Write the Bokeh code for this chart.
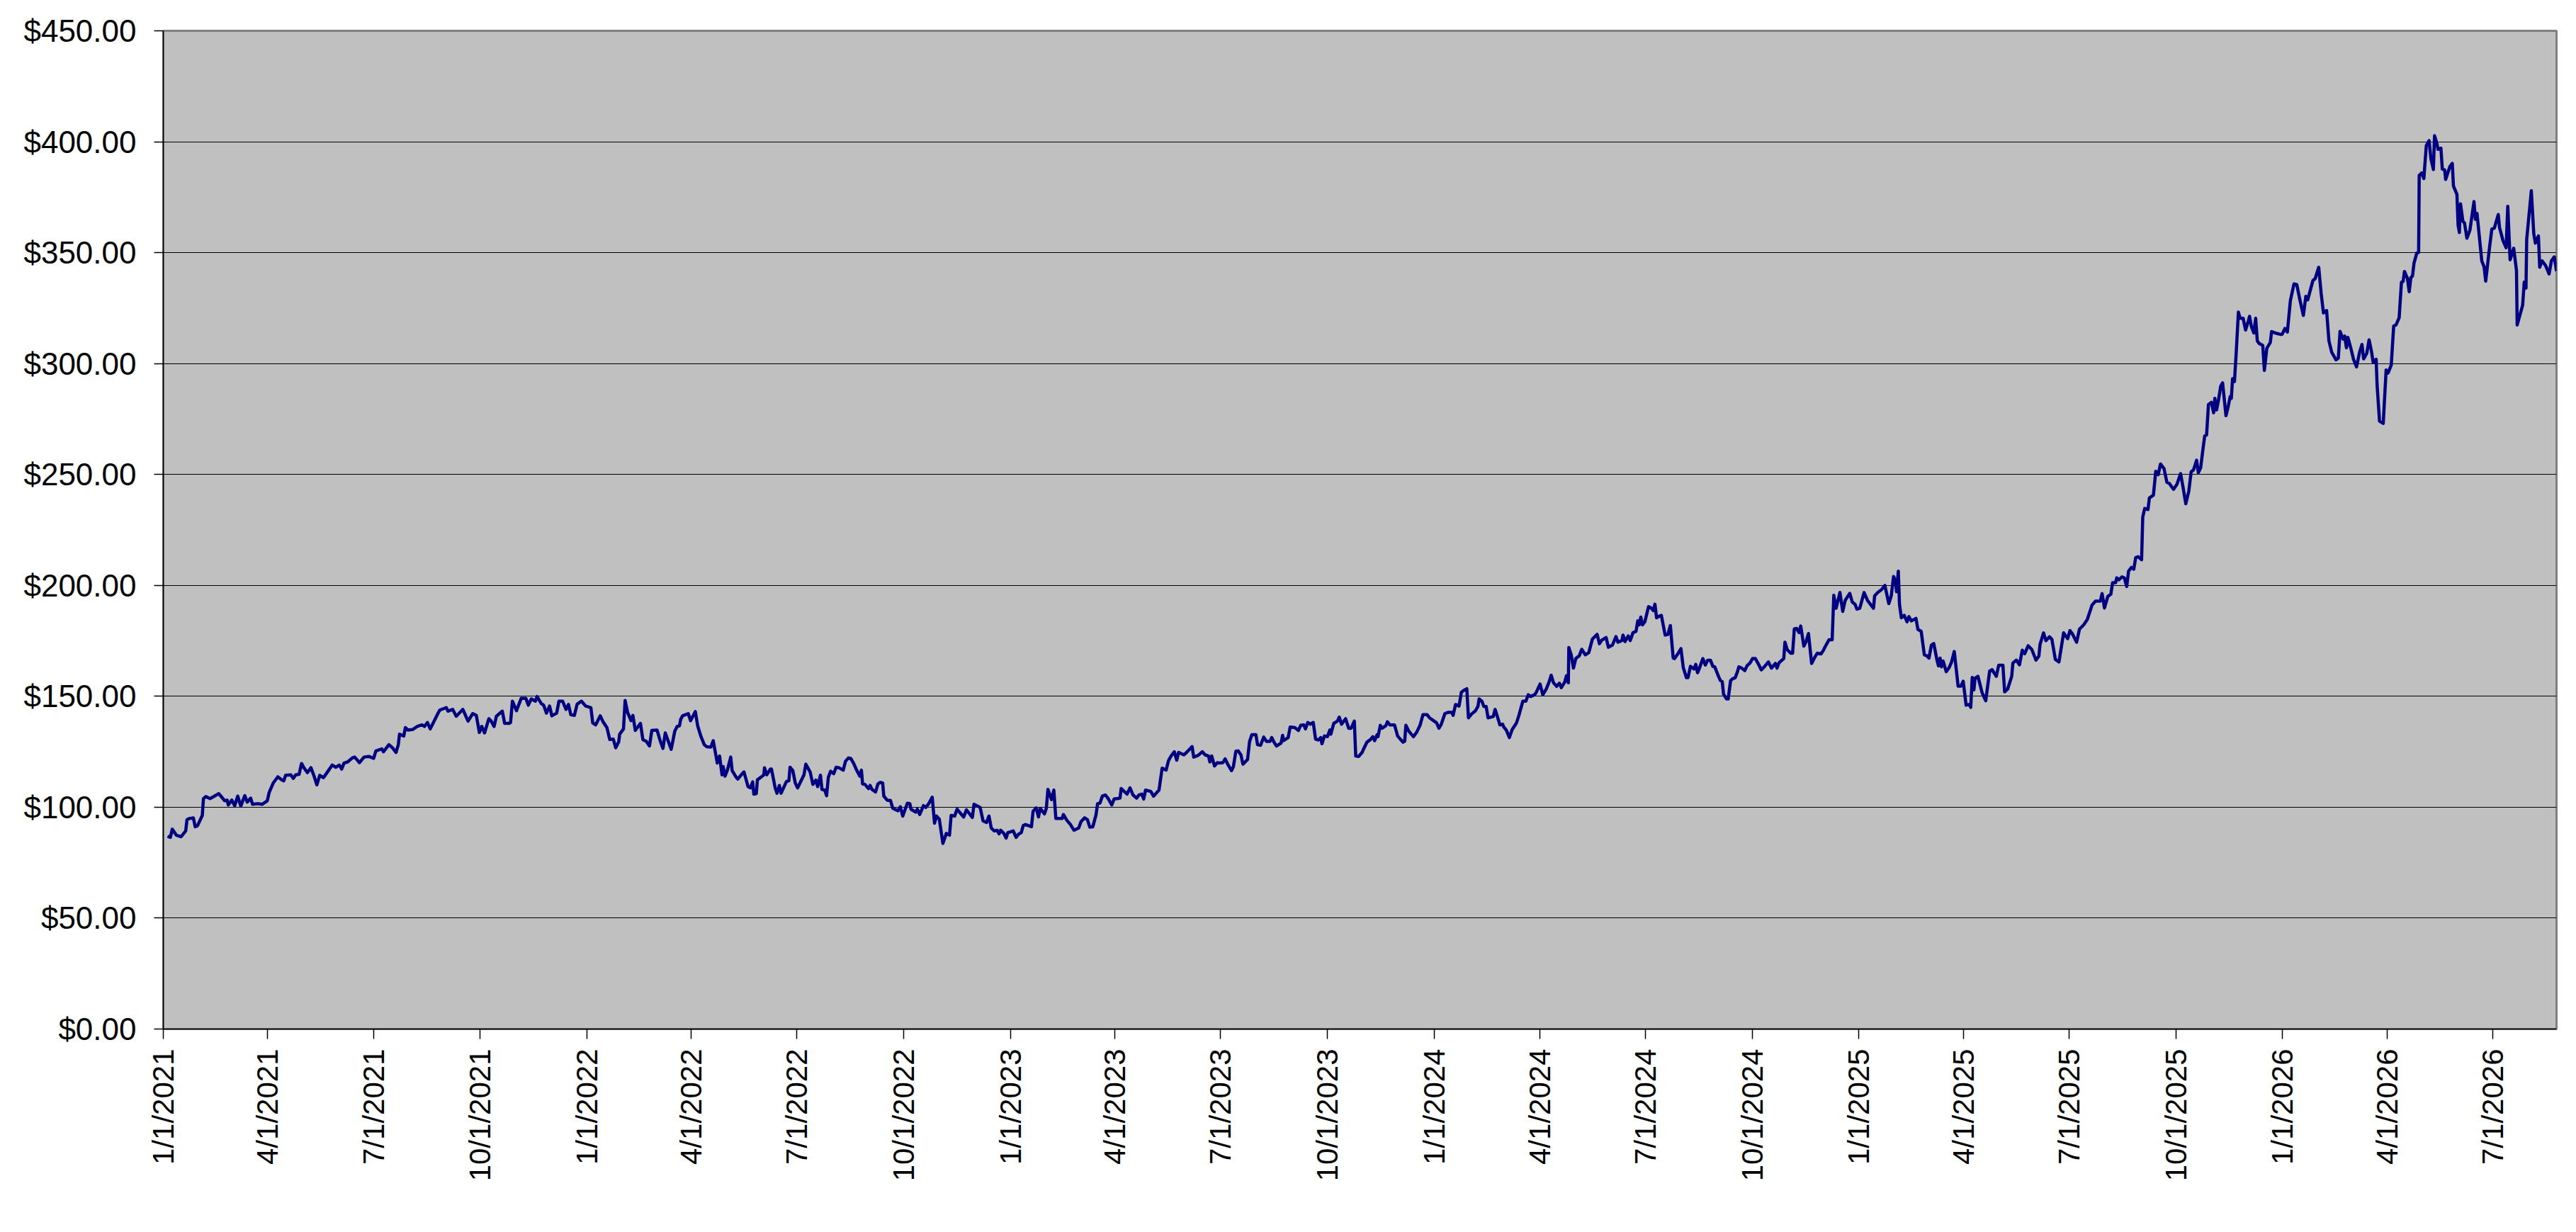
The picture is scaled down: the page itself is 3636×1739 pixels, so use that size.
import numpy as np
import pandas as pd
from bokeh.plotting import figure
from bokeh.models import Range1d, FixedTicker, NumeralTickFormatter, CustomJSTickFormatter, ColumnDataSource
from bokeh.embed import file_html
from bokeh.resources import INLINE

start_date = "2021-01-01"
end_date = "2026-08-25"

days_since_start = [
    3.7, 6.1, 7.7, 11.2, 15.3, 19.3, 20.4, 22.4, 25.9, 27.5, 29.5, 33.6, 34.6, 36.6, 40.3, 47.8, 52.9, 55, 56, 59,
    61.5, 64.1, 66.8, 70.2, 72.3, 75.3, 76.9, 81.4, 85.1, 89.6, 91.2, 94.7, 98.7, 101.8, 103.8, 105.4, 109.9, 112, 114, 117,
    119.1, 121.1, 124.2, 127.2, 129.9, 132.3, 134.8, 138, 140.4, 145.5, 148.6, 151.6, 153.7, 155.7, 158.8, 162.8, 164.9, 169, 173, 177.1,
    181.2, 183.2, 188.3, 189.7, 194.4, 197.4, 200.5, 202.5, 203.5, 207.2, 208.6, 210.7, 214.7, 218.8, 222.9, 225, 227.6, 230, 236.1, 238.2,
    243.8, 245.3, 249.3, 252.4, 258.1, 262.6, 266.6, 269.7, 272.3, 274.4, 276.8, 280.5, 282.5, 285, 287, 292.1, 294.1, 298.2,
    299.2, 300.8, 304.3, 308.4, 312.4, 314.5, 317.1, 320.6, 322, 325.7, 327.7, 330.1, 332.8, 334.8, 338.9, 340.9, 344, 347, 349.1, 351.1,
    354.2, 356.6, 360.3, 363.9, 368.4, 370, 372.5, 376.5, 378.6, 382.2, 384.7, 387.7, 389.8, 392.4, 393.2, 396.5, 397.9, 400, 403, 404.6,
    406.7, 411.1, 413.2, 416.2, 418.9, 420.9, 425.4, 427.8, 430.5, 432.5, 437.6, 440.7, 442.7, 444.7, 445.8, 447.4, 449.8, 452.3, 454.3, 458.4,
    460.4, 463.1, 466.1, 468.1, 471.8, 473.8, 475.3, 477.3, 479.3, 481.4, 482.4, 484, 486, 488.9, 490.1, 493.6, 495, 498.3, 500.3, 501.7,
    503.8, 505.8, 507.8, 508.8, 510.9, 511.9, 514.9, 517.4, 518, 520, 523.1, 524, 527.2, 528.8, 530.8, 532.3, 536.9, 539, 540, 542.4,
    544.5, 546.5, 552, 553.6, 557.3, 559.7, 562.2, 563.8, 566.2, 567.5, 569.9, 571.5, 573, 575, 577.6, 579.7, 582.1, 585.8, 587.8, 590.3,
    592.3, 594.7, 597.4, 600.1, 601.5, 602.5,
    604.5, 607.6, 609, 610.6, 613.7, 615.7, 617.7, 619.8, 620.8, 623.8, 626.5, 628.5, 633, 635, 637.1, 641.1, 643.2, 644.2, 648.3, 649.7,
    651.7, 655, 657, 659.5, 662.5, 664.5, 666.2, 668.6, 671.7, 674.7, 677.4, 678.8, 681.8, 683.9, 689.6, 692, 697.1, 698.5, 703.8, 706.3,
    709.3, 711.4, 713.4, 716, 718.5, 720.1, 721.5, 724.2, 726.2, 727.6, 732.3, 734.8, 736.8, 739.2, 740.9, 742.9, 748, 749.4, 752.1, 754.1,
    755.5, 759.2, 760.8, 762.2, 765.3, 767.3, 769, 774.5, 775.5, 778.5, 781.6, 784.6, 788.7, 790.7, 793.8, 796.2, 798.3, 800.9, 803.6, 805,
    807, 809.1, 811.7, 814.1, 817.2, 819.2, 821.9, 824.3, 825.3, 830.4, 832.9, 835.5, 838.6, 840.6, 843.1, 844.7, 846.3, 850.8, 853.2, 857.9,
    860.6, 864, 866.1, 868.1, 871.1, 873.2, 874.8, 879.3, 881.7, 886.4, 887.8, 891.5, 895.2, 897.6, 900.6, 901.7, 903.3, 905.7, 908.2,
    909.8, 912.9, 914.9, 917.5, 920.4, 922, 924.1, 926.1, 928.5, 930.2, 934.2, 935.9, 937.9, 941.4, 942.8, 945.4, 948.1, 950.5, 953.6, 955,
    957, 959.1, 963.1, 964.4, 965.2, 969.2, 970.9, 974.9, 978, 980, 982.7, 984.1, 986.1, 988.2, 990.8, 992.8, 995.3, 997.3, 998.3, 1000.4,
    1003, 1005.1, 1005.9, 1008.5, 1011.6, 1013.2, 1015.2, 1018.7, 1021.3, 1023.4, 1026.2, 1027.4, 1029.9, 1032.9, 1034.4, 1037, 1040.1, 1042.1, 1043.7, 1045.8,
    1046.6, 1048.6, 1050.2, 1053.3, 1054.7, 1056.8, 1060.8, 1063.5, 1066.1, 1068.2, 1069.6, 1070.6, 1073.1, 1077.1, 1079.8, 1082.8, 1085.3, 1088.9, 1091, 1095,
    1097.1, 1099.1, 1101.1, 1104.2, 1107.2, 1110.3, 1111.3, 1113.4, 1116.4, 1118.4, 1120.5, 1123.1, 1124.5, 1127.2, 1130.6, 1132.7, 1133.7, 1136.1, 1137.8, 1139.8,
    1141.4, 1145.9, 1147.5, 1150, 1151.6, 1154, 1155, 1157.1, 1159.8, 1162.2, 1165.9, 1167.9, 1171.4, 1174, 1176, 1178.1, 1181.5, 1183, 1186.2, 1188.6,
    1191.7, 1194.3, 1195.8, 1197.8, 1200.5, 1202.9, 1204.5, 1207.4, 1209, 1210.6, 1211, 1213.1,
    1215, 1217, 1220.1, 1222.1, 1225.2, 1228.2, 1231.3, 1235.4, 1237.4, 1239.4, 1243.1, 1245.1, 1248.6, 1251.6, 1253.3, 1256.7, 1257.7, 1259.4, 1262.2, 1263.9,
    1266.3, 1268.9, 1270.4, 1271.6, 1273, 1274.4, 1276.5, 1279.7, 1282.2, 1283.8, 1285.2, 1286.6, 1288.7, 1290.7, 1294, 1296.4, 1298.5, 1300.9, 1302.1, 1305.6,
    1307.6, 1309.6, 1312.3, 1313.7, 1315.8, 1318.8, 1320.4, 1321.9, 1323.3, 1326.5, 1328.6, 1330.6, 1333.1, 1335.1, 1336.7, 1340.2, 1341.6, 1343.2, 1344.3, 1346.9,
    1348.3, 1350.4, 1352.4, 1354.4, 1356.5, 1357.5, 1359.9, 1362.6, 1364.6, 1367.2, 1369.3, 1371.7, 1374.8, 1376.8, 1379.5, 1382.9, 1385.6, 1389, 1390.4, 1392.1,
    1396.2, 1397.2, 1399.2, 1402.3, 1403.8, 1405.3, 1407.3, 1409.4, 1410.8, 1413.5, 1415.5, 1417.5, 1420.2, 1422.6, 1425, 1428.3, 1430.4, 1431.8, 1433.8, 1435.2,
    1437.9, 1439.3, 1441.3, 1443, 1444.6, 1447, 1449.1, 1453.1, 1455.2, 1457.6, 1459.2, 1461.7, 1465.4, 1468.4, 1471.5, 1473.5, 1474.5, 1477.2, 1480.6, 1483.3,
    1486.7, 1488.8, 1490.8, 1492.2, 1493.4, 1494.9, 1495.9, 1497.5, 1500, 1502.4, 1504, 1506.1, 1510.1, 1511.8, 1514.6, 1517.3, 1519.3,
    1521.3, 1523.4, 1525.4, 1528.4, 1529.5, 1530.9, 1532.1, 1533.5, 1536.2, 1538.6, 1540.7, 1543.1, 1544.7, 1546.4, 1548.8, 1550.8, 1553.3, 1555.9, 1557.3, 1558.6,
    1560, 1561, 1563.5, 1567.1, 1570.2, 1573.6, 1575.7, 1579.3, 1581.4, 1585, 1586.5, 1589.1, 1592.6, 1593.6, 1596.6, 1599.3, 1601.7, 1603.8, 1606.8, 1609.9,
    1613.5, 1616, 1617, 1620, 1622.1, 1625.1, 1627.2, 1630.2, 1633.3, 1637.3, 1640.8, 1642.8, 1644.9, 1648.5, 1651, 1654.6, 1657.7, 1661.8, 1664.8, 1668.9,
    1670.5, 1672.5, 1675.4, 1678, 1679.5, 1682.1, 1683.1, 1684.8, 1687.6, 1689.6, 1691.7, 1693.3, 1695.8, 1697.8, 1699.4, 1701.5, 1704.5, 1705.5, 1707.2, 1710,
    1711.2, 1714.7, 1716.7, 1718.8, 1720.8, 1723.8, 1726.3, 1728.3, 1732, 1735, 1738.1, 1740.1, 1742.6, 1745.2, 1747.2, 1749.3, 1751.9, 1753.4, 1755.4, 1757.4,
    1758.9, 1760.5, 1762.1, 1764.6, 1766.6, 1767.6, 1769.1, 1770.7, 1772.7, 1774.3, 1777.2, 1779.2, 1780.8, 1781.8, 1782.9, 1784.5, 1785.9, 1787.9, 1789.4, 1792,
    1794.1, 1796.7, 1797.5, 1799.1, 1801.2, 1802.8, 1804.2, 1805.7, 1808.9, 1810.3, 1812.4, 1815.4, 1816.5, 1819.5, 1824.6,
    1825.6, 1828, 1830.1, 1832.7, 1835.8, 1838.2, 1840.9, 1843.9, 1846, 1847.6, 1852.1, 1854.1, 1857.1, 1859.2, 1861.2, 1863.9, 1865.9, 1868.3, 1872, 1874,
    1875.5, 1878.1, 1879.5, 1881, 1882.2, 1884.6, 1887.1, 1889.7, 1892.4, 1894.4, 1895.8, 1898.5, 1900.5, 1902.5, 1904, 1906.6, 1907.4, 1909.5, 1912.7, 1915.2,
    1916.8, 1919.6, 1921.7, 1923.7, 1926.4, 1928.4, 1929.8, 1931, 1933.5, 1935.1, 1936.5, 1937.9, 1939.2, 1941.6, 1943.2, 1943.7, 1945.7, 1947.7, 1949.8, 1952.2,
    1953.8, 1955.9, 1956.9, 1958.9, 1959.9, 1962.4, 1963.6, 1965.6, 1966.5, 1970.1, 1972.2, 1973.2, 1976.2, 1977.2, 1978.3, 1979.3, 1981.3, 1982.7, 1984.8, 1987.4,
    1990.9, 1992.1, 1993.5, 1997.6, 1999.6, 2001, 2004.3, 2006.3, 2008.4, 2011.8, 2012.9, 2015.9, 2018.6, 2020, 2022, 2025.1, 2027.5, 2028.1, 2032.8, 2034.2,
    2035.7, 2036.3, 2040.3, 2042.4, 2043.8, 2046.4, 2047.5, 2049.5, 2052.6, 2055.6, 2057.6, 2060.1, 2062,
]

close_price = [
    86.9, 86.4, 90.1, 87.4, 86.7, 89.3, 94.4, 94.9, 95.2, 91.2, 91.7, 96.3, 103.9, 104.8, 103.9, 106.1, 102.9, 103.2, 101.0, 103.2,
    100.7, 105.0, 100.5, 105.2, 102.3, 104.1, 101.3, 101.6, 101.3, 102.9, 106.6, 110.9, 113.7, 112.4, 111.9, 114.4, 114.6, 113.0, 114.6, 114.8,
    119.7, 117.8, 115.6, 117.8, 114.0, 110.1, 114.4, 113.3, 115.1, 119.0, 118.0, 119.0, 117.2, 119.9, 120.4, 122.2, 122.6, 120.1, 122.6, 122.9,
    122.0, 125.4, 126.3, 125.0, 128.2, 126.8, 124.7, 128.2, 132.9, 132.1, 135.9, 134.8, 135.0, 136.4, 137.1, 136.4, 138.2, 135.3, 141.7, 143.8,
    144.9, 143.3, 144.1, 141.0, 144.1, 138.8, 142.2, 141.4, 133.7, 136.4, 133.5, 139.9, 138.8, 136.4, 141.0, 143.3, 137.8, 137.8,
    138.2, 147.8, 143.5, 149.1, 149.1, 146.0, 148.8, 147.8, 149.9, 146.7, 146.0, 142.4, 145.6, 141.2, 142.4, 147.8, 147.8, 144.1, 146.3, 141.7,
    141.4, 146.5, 147.8, 145.6, 144.9, 138.0, 137.1, 141.2, 138.8, 135.9, 130.5, 130.7, 126.8, 129.5, 132.9, 135.3, 148.1, 142.8, 139.0, 141.4,
    134.6, 137.8, 130.5, 129.7, 127.6, 134.6, 134.8, 130.5, 126.5, 133.5, 126.1, 134.3, 136.4, 136.7, 139.6, 141.2, 141.7, 142.2, 139.0, 143.1,
    136.7, 132.1, 128.2, 127.3, 127.1, 130.0, 125.7, 119.9, 123.1, 114.6, 118.3, 114.0, 116.7, 122.6, 116.5, 113.5, 112.7, 114.8, 115.9, 113.3,
    109.3, 108.7, 111.4, 105.9, 106.1, 112.4, 113.5, 114.6, 117.8, 114.6, 117.2, 117.2, 108.7, 106.3, 109.8, 106.3, 111.6, 111.9, 118.0, 116.5,
    110.9, 108.7, 114.6, 119.4, 115.9, 110.3, 112.2, 109.3, 114.4, 108.0, 107.7, 105.2, 113.5, 116.2, 115.1, 118.0, 117.8, 116.7, 120.7, 122.2,
    122.0, 119.9, 116.7, 114.0, 116.7, 110.5,
    110.3, 108.4, 109.8, 108.0, 106.9, 110.5, 111.2, 110.9, 105.0, 103.1, 103.1, 99.5, 98.4, 100.2, 96.0, 101.8, 101.6, 99.1, 97.8, 99.1,
    96.7, 100.7, 99.9, 101.6, 104.5, 92.8, 96.0, 94.6, 83.7, 88.2, 87.4, 96.3, 96.0, 99.1, 95.6, 98.8, 95.4, 101.3, 99.9, 93.8,
    93.1, 96.0, 90.6, 89.3, 89.6, 88.0, 89.6, 88.2, 86.1, 88.5, 89.3, 86.4, 87.8, 88.5, 91.7, 92.2, 91.2, 98.1, 99.7, 95.6,
    99.5, 97.0, 99.5, 108.0, 103.4, 107.7, 94.9, 94.9, 96.7, 94.1, 92.2, 89.6, 90.6, 93.5, 95.2, 94.4, 91.0, 91.2, 96.5, 101.6,
    101.8, 105.0, 105.5, 103.9, 101.0, 103.7, 103.9, 104.1, 108.4, 105.9, 108.7, 105.5, 104.1, 105.5, 105.9, 103.7, 107.7, 107.1, 105.0, 107.7,
    117.6, 116.7, 121.0, 122.9, 125.0, 121.2, 124.7, 123.6, 124.7, 127.3, 122.6, 123.3, 125.0, 123.6, 123.1, 120.4, 123.1, 118.6, 120.1,
    119.9, 120.1, 121.8, 119.0, 116.5, 118.3, 125.2, 125.4, 123.6, 119.4, 121.5, 129.5, 132.7, 132.7, 128.2, 127.9, 131.6, 129.7, 129.7, 131.4,
    129.3, 127.6, 128.9, 132.4, 130.0, 131.4, 136.1, 135.9, 134.6, 136.9, 137.1, 135.3, 138.2, 137.4, 138.2, 130.7, 130.3, 131.4, 128.6, 132.1,
    131.8, 134.8, 132.9, 137.8, 138.8, 140.6, 137.4, 139.9, 135.6, 135.6, 138.8, 123.1, 122.9, 124.7, 126.5, 129.3, 130.5, 131.8, 130.0, 132.7,
    131.8, 136.9, 135.6, 136.7, 138.5, 137.1, 137.1, 132.1, 130.5, 129.3, 129.7, 136.9, 134.3, 131.8, 133.7, 136.9, 141.7, 141.7, 140.3, 138.8,
    138.0, 135.6, 137.4, 142.2, 142.8, 142.8, 141.4, 146.3, 145.6, 151.8, 152.7, 153.4, 140.3, 142.0, 143.5, 145.4, 148.8, 147.8, 145.4, 145.4,
    140.3, 140.9, 144.1, 139.9, 137.1, 137.4, 136.1, 134.8, 131.4, 135.0, 138.0, 141.2, 147.8, 147.8, 150.7, 149.9, 150.7, 151.8, 155.5, 150.7,
    153.4, 156.9, 159.5, 156.1, 154.5, 155.9, 153.9, 156.3, 159.3, 156.1, 172.0, 168.6,
    162.7, 167.0, 168.3, 171.2, 168.7, 169.7, 175.8, 177.9, 173.7, 175.3, 176.5, 172.1, 173.1, 176.9, 174.4, 175.1, 177.6, 174.7, 177.2, 175.1,
    178.7, 179.3, 184.0, 182.2, 185.7, 182.2, 183.6, 190.4, 189.7, 188.6, 191.5, 185.4, 186.1, 186.5, 177.6, 177.9, 181.9, 167.3, 167.0, 169.7,
    171.5, 163.0, 158.4, 158.4, 163.5, 162.3, 164.4, 160.6, 162.3, 167.0, 164.1, 166.2, 166.2, 163.5, 163.3, 158.7, 157.1, 156.6, 151.0, 148.8,
    148.8, 157.1, 158.0, 158.4, 161.4, 163.3, 162.7, 161.6, 163.8, 165.1, 167.0, 167.0, 164.1, 161.9, 163.3, 165.5, 162.7, 164.8, 162.7, 165.1,
    167.0, 174.4, 171.0, 169.4, 169.4, 180.4, 180.6, 178.7, 181.7, 172.6, 174.7, 178.3, 164.8, 167.3, 169.4, 169.1, 170.8, 172.3, 174.2, 175.5,
    175.5, 195.5, 189.7, 193.4, 196.8, 188.3, 193.2, 196.4, 192.5, 191.5, 189.3, 189.7, 196.8, 193.2, 191.0, 189.7, 195.3, 196.8, 198.2, 200.0,
    191.8, 195.3, 204.0, 202.5, 197.1, 206.4, 191.5, 185.4, 186.5, 183.6, 185.9, 184.0, 185.1, 180.1, 179.3, 168.7, 168.3,
    167.2, 173.1, 173.8, 165.9, 163.7, 167.2, 163.3, 165.9, 161.1, 162.9, 165.3, 170.2, 162.7, 154.6, 154.6, 156.8, 146.0, 146.3, 145.0, 158.5,
    152.9, 158.1, 159.0, 151.6, 148.0, 161.4, 162.0, 159.0, 164.0, 164.0, 152.0, 153.3, 159.0, 165.0, 166.3, 164.2, 170.8, 169.2, 172.8, 171.1,
    166.3, 168.1, 173.4, 178.6, 175.1, 176.8, 175.7, 166.6, 165.5, 178.6, 176.0, 179.6, 178.1, 174.4, 180.3, 182.2, 184.6, 191.1, 192.9, 192.9,
    196.3, 189.8, 195.0, 196.0, 201.2, 201.2, 203.4, 202.5, 203.8, 203.4, 199.5, 206.4, 208.1, 207.3, 212.5, 212.9, 211.6, 230.8, 234.7, 234.2,
    239.4, 240.7, 251.4, 249.9, 254.7, 252.7, 246.5, 246.0, 243.3, 245.6, 250.4, 244.6, 236.8, 242.6, 251.2, 252.1, 256.4, 250.8, 253.0, 261.6,
    267.4, 267.8, 281.5, 282.5, 277.8, 284.3, 279.1, 283.4, 289.9, 291.3, 276.5, 280.8, 285.1, 284.3, 293.2, 291.9, 303.7, 323.2, 320.4, 320.4,
    315.1, 319.6, 321.3, 316.7, 313.8, 320.4, 310.2, 309.1, 308.2, 296.9, 306.9, 309.5, 314.4, 313.8, 313.1,
    313.2, 315.8, 314.2, 328.4, 335.9, 335.6, 328.7, 321.7, 330.3, 328.7, 337.4, 338.3, 343.4, 331.7, 322.8, 323.9, 310.3, 305.1, 301.7, 302.5,
    314.5, 311.0, 312.4, 307.1, 311.8, 307.3, 301.9, 298.5, 305.3, 308.6, 302.1, 304.6, 310.7, 305.7, 300.6, 301.9, 290.4, 274.1, 273.0, 297.1,
    295.7, 299.3, 316.9, 317.4, 320.6, 336.7, 337.0, 341.5, 338.5, 332.4, 338.8, 339.4, 345.2, 349.8, 350.1, 384.8, 385.9, 383.4, 398.2, 400.5,
    392.3, 387.5, 402.7, 399.3, 396.6, 397.1, 387.7, 387.3, 383.0, 388.8, 390.2, 380.0, 376.3, 362.4, 359.1, 372.0, 364.2, 363.4, 356.5, 360.2,
    373.0, 365.0, 367.7, 346.3, 343.6, 337.2, 352.4, 360.7, 361.0, 367.2, 361.3, 355.4, 352.2, 370.9, 346.8, 352.0, 342.0, 317.4, 326.3, 336.7,
    334.0, 355.9, 377.9, 358.6, 354.3, 357.5, 343.4, 346.3, 344.2, 340.4, 346.3, 348.1, 341.7,
]

tick_labels = [
    "1/1/2021", "4/1/2021", "7/1/2021", "10/1/2021",
    "1/1/2022", "4/1/2022", "7/1/2022", "10/1/2022",
    "1/1/2023", "4/1/2023", "7/1/2023", "10/1/2023",
    "1/1/2024", "4/1/2024", "7/1/2024", "10/1/2024",
    "1/1/2025", "4/1/2025", "7/1/2025", "10/1/2025",
    "1/1/2026", "4/1/2026", "7/1/2026",
]
y_ticks = [0, 50, 100, 150, 200, 250, 300, 350, 400, 450]

dates = pd.Timestamp(start_date) + pd.to_timedelta(np.array(days_since_start), unit="D")
src = ColumnDataSource(data=dict(date=dates, price=close_price))

epoch = pd.Timestamp("1970-01-01")
tick_ms = [float((pd.to_datetime(t, format="%m/%d/%Y") - epoch) / pd.Timedelta(milliseconds=1)) for t in tick_labels]

FONT = "Liberation Sans"

p = figure(
    x_axis_type="datetime",
    frame_width=3378, frame_height=1409,
    min_border_left=230, min_border_right=26, min_border_top=43, min_border_bottom=284,
    x_range=Range1d(pd.Timestamp(start_date), pd.Timestamp(end_date)),
    y_range=Range1d(0, 450),
    output_backend="svg", toolbar_location=None,
    border_fill_color="white",
)
p.background_fill_color = "#C0C0C0"
p.outline_line_color = "#808080"
p.outline_line_width = 3

p.line("date", "price", source=src, line_color="#000080", line_width=4.5, line_join="round")

p.xgrid.visible = False
p.ygrid.ticker = FixedTicker(ticks=y_ticks)
p.ygrid.grid_line_color = "black"
p.ygrid.grid_line_width = 1.2

p.yaxis.ticker = FixedTicker(ticks=y_ticks)
p.yaxis.formatter = NumeralTickFormatter(format="$0.00")
p.xaxis.ticker = FixedTicker(ticks=tick_ms)
p.xaxis.formatter = CustomJSTickFormatter(code="""
const d = new Date(tick);
return (d.getUTCMonth() + 1) + "/" + d.getUTCDate() + "/" + d.getUTCFullYear();
""")
p.xaxis.major_label_orientation = np.pi / 2

for ax in (p.xaxis[0], p.yaxis[0]):
    ax.axis_line_color = "black"
    ax.axis_line_width = 1.5
    ax.major_tick_line_color = "black"
    ax.major_tick_line_width = 1.5
    ax.major_tick_in = 0
    ax.minor_tick_line_color = None
    ax.major_label_text_font = FONT
    ax.major_label_text_color = "black"

p.xaxis.major_label_text_font_size = "42px"
p.yaxis.major_label_text_font_size = "44px"
p.yaxis.major_tick_out = 13
p.yaxis.major_label_standoff = 25
p.xaxis.major_tick_out = 14
p.xaxis.major_label_standoff = 14

open("out.html", "w").write(file_html(p, INLINE))
